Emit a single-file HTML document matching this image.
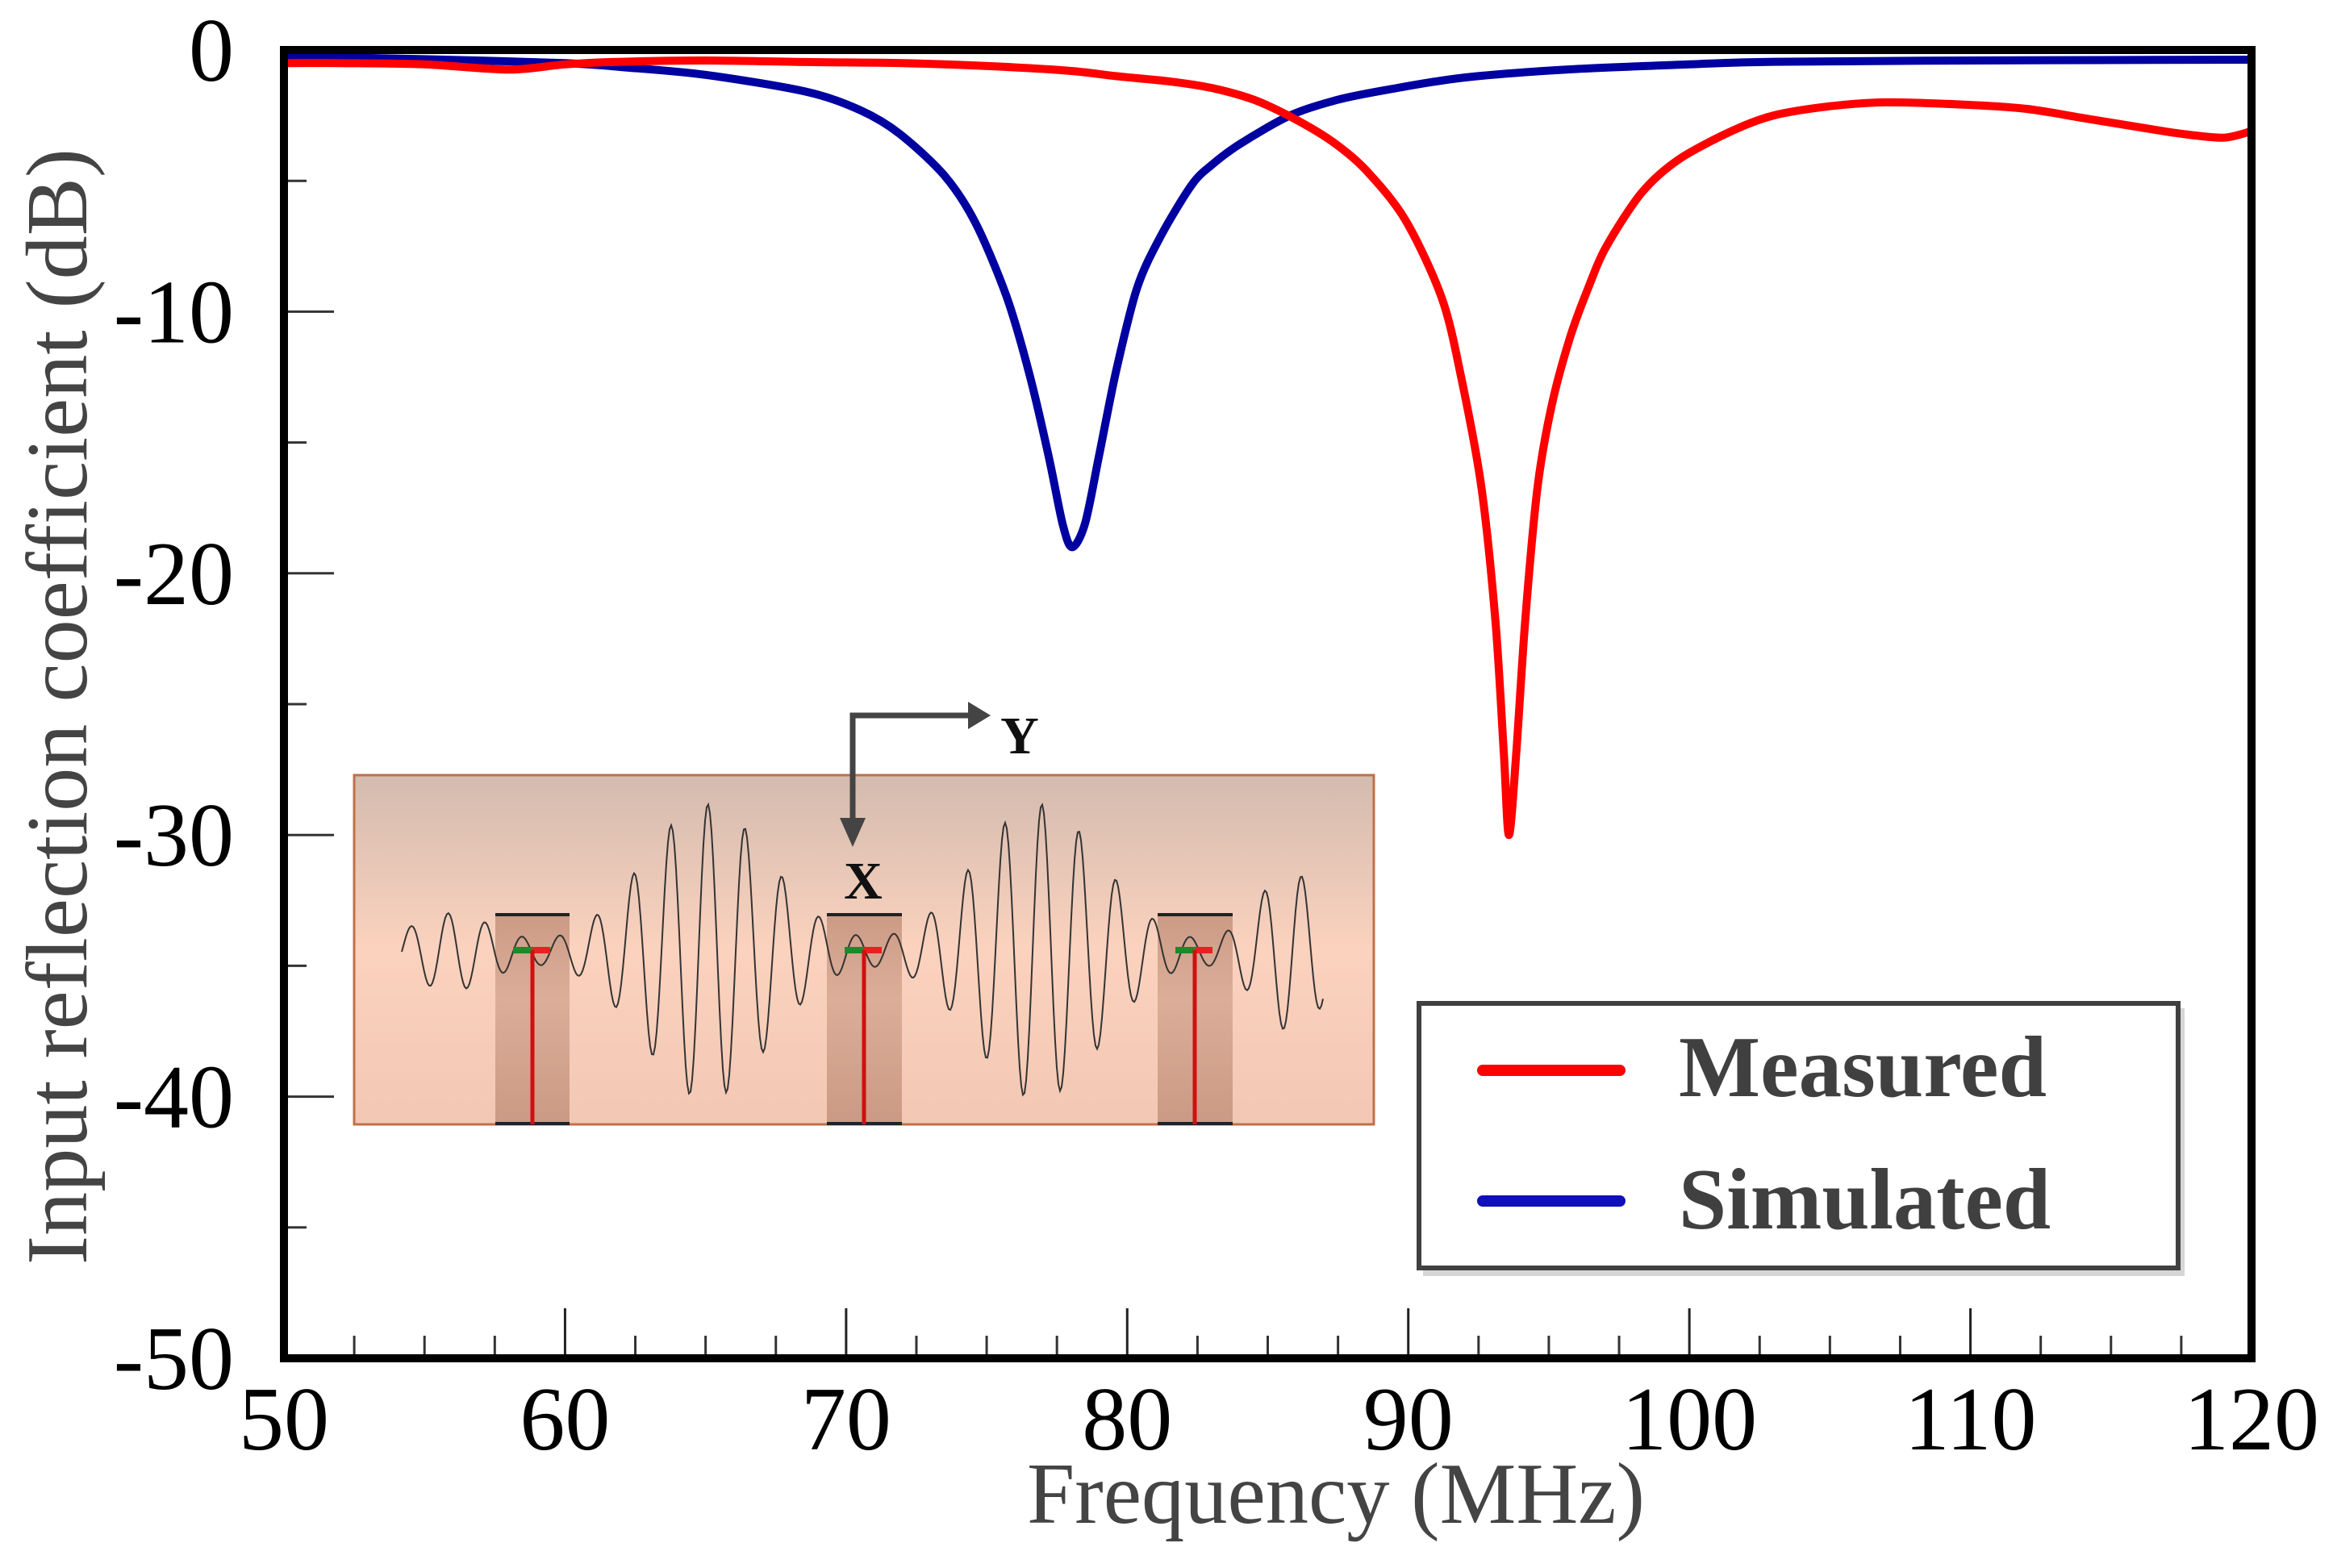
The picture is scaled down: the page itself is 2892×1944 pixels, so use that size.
<!DOCTYPE html>
<html><head><meta charset="utf-8"><style>
html,body{margin:0;padding:0;background:#fff;}
svg{display:block;}
</style></head><body>
<svg id="chart" width="2892" height="1944" viewBox="0 0 2892 1944" xmlns="http://www.w3.org/2000/svg">
<defs>
<linearGradient id="insetGrad" x1="0" y1="0" x2="0" y2="1">
<stop offset="0" stop-color="#d3bbaf"/>
<stop offset="0.5" stop-color="#fbd2be"/>
<stop offset="1" stop-color="#f2c8b4"/>
</linearGradient>
<linearGradient id="elecGrad" x1="0" y1="0" x2="0" y2="1">
<stop offset="0" stop-color="#c4917c"/>
<stop offset="0.4" stop-color="#d6a892"/>
<stop offset="1" stop-color="#c4917c"/>
</linearGradient>
</defs>
<g id="ticks"></g>
<g id="ticklabels" font-family="Liberation Serif, serif" font-size="112" fill="#000"></g>
<g id="inset">
<rect x="439" y="961" width="1264" height="433" fill="url(#insetGrad)" stroke="#c0704a" stroke-width="3"/>
<g><rect x="614" y="1134" width="92" height="260" fill="url(#elecGrad)" opacity="0.85"/><line x1="614" y1="1134" x2="706" y2="1134" stroke="#222" stroke-width="4"/><line x1="614" y1="1393" x2="706" y2="1393" stroke="#222" stroke-width="4"/></g>
<g><rect x="1025" y="1134" width="93" height="260" fill="url(#elecGrad)" opacity="0.85"/><line x1="1025" y1="1134" x2="1118" y2="1134" stroke="#222" stroke-width="4"/><line x1="1025" y1="1393" x2="1118" y2="1393" stroke="#222" stroke-width="4"/></g>
<g><rect x="1435" y="1134" width="93" height="260" fill="url(#elecGrad)" opacity="0.85"/><line x1="1435" y1="1134" x2="1528" y2="1134" stroke="#222" stroke-width="4"/><line x1="1435" y1="1393" x2="1528" y2="1393" stroke="#222" stroke-width="4"/></g>
<polyline id="wave" fill="none" stroke="#333" stroke-width="2"/>
<g><rect x="636" y="1174" width="24" height="8" fill="#1a8a2a"/><rect x="660" y="1174" width="22" height="8" fill="#e82020"/><line x1="660" y1="1178" x2="660" y2="1394" stroke="#d01010" stroke-width="5"/></g>
<g><rect x="1047" y="1174" width="24" height="8" fill="#1a8a2a"/><rect x="1071" y="1174" width="22" height="8" fill="#e82020"/><line x1="1071" y1="1178" x2="1071" y2="1394" stroke="#d01010" stroke-width="5"/></g>
<g><rect x="1457" y="1174" width="24" height="8" fill="#1a8a2a"/><rect x="1481" y="1174" width="22" height="8" fill="#e82020"/><line x1="1481" y1="1178" x2="1481" y2="1394" stroke="#d01010" stroke-width="5"/></g>
<g stroke="#444" stroke-width="7" fill="#444">
<polyline points="1221,887 1057,887 1057,1020" fill="none"/>
<polygon points="1228,887 1200,870 1200,904" stroke="none"/>
<polygon points="1057,1050 1041,1014 1073,1014" stroke="none"/>
</g>
<text x="1264" y="934" font-family="Liberation Serif, serif" font-weight="bold" font-size="66" text-anchor="middle" fill="#111">Y</text>
<text x="1070" y="1114" font-family="Liberation Serif, serif" font-weight="bold" font-size="66" text-anchor="middle" fill="#111">X</text>
</g>
<g id="series"></g>
<rect x="352" y="62" width="2439" height="1622" fill="none" stroke="#000" stroke-width="10"/>
<g>
<rect x="1764" y="1250" width="944" height="332" fill="#bbb" opacity="0.6"/>
<rect x="1759" y="1244" width="941" height="328" fill="#fff" stroke="#404040" stroke-width="6"/>
<g>
<line x1="1838" y1="1327" x2="2008" y2="1327" stroke="#ff0000" stroke-width="14" stroke-linecap="round"/>
<text x="2081" y="1359" font-family="Liberation Serif, serif" font-weight="bold" font-size="108" fill="#404040" textLength="456" lengthAdjust="spacingAndGlyphs">Measured</text>
</g>
<g>
<line x1="1838" y1="1489" x2="2008" y2="1489" stroke="#1010b8" stroke-width="14" stroke-linecap="round"/>
<text x="2081" y="1523" font-family="Liberation Serif, serif" font-weight="bold" font-size="108" fill="#404040" textLength="461" lengthAdjust="spacingAndGlyphs">Simulated</text>
</g>
</g>
<text x="1273" y="1888" font-family="Liberation Serif, serif" font-size="108" fill="#444" textLength="766" lengthAdjust="spacingAndGlyphs">Frequency (MHz)</text>
<text transform="translate(107,1568) rotate(-90)" x="0" y="0" font-family="Liberation Serif, serif" font-size="108" fill="#444" textLength="1384" lengthAdjust="spacingAndGlyphs">Input reflection coefficient (dB)</text>
</svg>
<script>
const xTickValues = [50, 60, 70, 80, 90, 100, 110, 120];
const xTickLabels = ["50", "60", "70", "80", "90", "100", "110", "120"];
const yTickValues = [0, -10, -20, -30, -40, -50];
const yTickLabels = ["0", "-10", "-20", "-30", "-40", "-50"];
const measuredFreq = [50, 52, 55, 58, 60, 62, 65, 68.6, 72, 75.2, 78, 79.6, 81.5, 83, 84.5, 85.9, 87.3, 88.5, 89.9, 91.2, 91.9, 92.6, 93.1, 93.4, 93.58, 93.84, 94.16, 94.6, 95.1, 95.75, 96.4, 97.05, 98.3, 99.6, 101.5, 103, 105, 107, 110, 112, 114, 116, 117.5, 119, 120];
const measuredDb = [-0.5, -0.5, -0.55, -0.75, -0.55, -0.45, -0.4, -0.46, -0.5, -0.62, -0.8, -1.0, -1.2, -1.45, -1.9, -2.6, -3.5, -4.6, -6.5, -9.5, -12.6, -16.7, -21.8, -26.9, -30.0, -26.9, -21.8, -16.7, -13.6, -11.0, -9.1, -7.5, -5.46, -4.2, -3.1, -2.5, -2.15, -2.0, -2.1, -2.25, -2.6, -2.95, -3.2, -3.35, -3.1];
const simulatedFreq = [50, 55, 60, 62, 65, 68.6, 70.5, 71.9, 73.5, 74.6, 75.7, 76.5, 77.2, 77.7, 78.04, 78.5, 79.0, 79.6, 80.35, 81.2, 82.3, 83.0, 84.0, 85.8, 87.5, 89.35, 92, 95.75, 100, 103, 110, 120];
const simulatedDb = [-0.25, -0.35, -0.5, -0.65, -0.95, -1.6, -2.3, -3.2, -4.8, -6.6, -9.4, -12.3, -15.5, -18.1, -19.0, -18.1, -15.5, -12.3, -9.1, -7.1, -5.15, -4.4, -3.6, -2.5, -1.9, -1.5, -1.05, -0.74, -0.55, -0.45, -0.4, -0.37];

const X0 = 352, X1 = 2791, Y0 = 62, Y1 = 1684;
function xs(f) { return X0 + (f - 50) / 70 * (X1 - X0); }
function ys(d) { return Y0 + (0 - d) / 50 * (Y1 - Y0); }
const NS = "http://www.w3.org/2000/svg";
function mk(tag, attrs, parent) {
  const e = document.createElementNS(NS, tag);
  for (const k in attrs) e.setAttribute(k, attrs[k]);
  parent.appendChild(e);
  return e;
}
const ticks = document.getElementById('ticks');
const tl = document.getElementById('ticklabels');
for (let f = 52.5; f < 120; f += 2.5) {
  const major = Math.abs(f / 10 - Math.round(f / 10)) < 1e-6;
  const t = mk('line', {x1: xs(f), x2: xs(f), y1: Y1, y2: Y1 - (major ? 62 : 28), stroke: major ? '#222' : '#333', 'stroke-width': 3}, ticks);
  
  
}
for (let d = -5; d > -50; d -= 5) {
  const major = d % 10 === 0;
  const t = mk('line', {x1: X0, x2: X0 + (major ? 62 : 28), y1: ys(d), y2: ys(d), stroke: '#333', 'stroke-width': 3}, ticks);
  
  
}
xTickValues.forEach((v, i) => {
  const t = mk('text', {x: xs(v), y: 1797, 'text-anchor': 'middle'}, tl);
  
  
  t.textContent = xTickLabels[i];
});
yTickValues.forEach((v, i) => {
  const t = mk('text', {x: 290, y: ys(v) + 38, 'text-anchor': 'end'}, tl);
  
  
  t.textContent = yTickLabels[i];
});
const series = document.getElementById('series');
function line(fr, db, color, name) {
  const P = fr.map((f, i) => [xs(f), ys(db[i])]);
  let d = 'M' + P[0][0].toFixed(1) + ',' + P[0][1].toFixed(1);
  for (let i = 0; i < P.length - 1; i++) {
    const p0 = P[Math.max(0, i - 1)], p1 = P[i], p2 = P[i + 1], p3 = P[Math.min(P.length - 1, i + 2)];
    const t = 0.15;
    const c1 = [p1[0] + (p2[0] - p0[0]) * t, p1[1] + (p2[1] - p0[1]) * t];
    const c2 = [p2[0] - (p3[0] - p1[0]) * t, p2[1] - (p3[1] - p1[1]) * t];
    d += ' C' + c1[0].toFixed(1) + ',' + c1[1].toFixed(1) + ' ' + c2[0].toFixed(1) + ',' + c2[1].toFixed(1) + ' ' + p2[0].toFixed(1) + ',' + p2[1].toFixed(1);
  }
  const p = mk('path', {d: d, fill: 'none', stroke: color, 'stroke-width': 10, 'stroke-linejoin': 'round', 'stroke-linecap': 'round'}, series);
  
  
}
line(simulatedFreq, simulatedDb, '#0000a0', 'simulated-line');
line(measuredFreq, measuredDb, '#ff0000', 'measured-line');
(function () {
  const packets = [[560, 40, 70], [876, 175, 110], [1287, 175, 110], [1600, 90, 60]];
  let pts = [];
  for (let x = 498; x <= 1641; x += 2) {
    let a = 0;
    packets.forEach(p => { a += p[1] * Math.exp(-Math.pow((x - p[0]) / p[2], 2)); });
    a += 8;
    pts.push(x + ',' + (1180 - a * Math.sin((x - 498) * 2 * Math.PI / 46)).toFixed(1));
  }
  document.getElementById('wave').setAttribute('points', pts.join(' '));
})();
</script>
</body></html>
